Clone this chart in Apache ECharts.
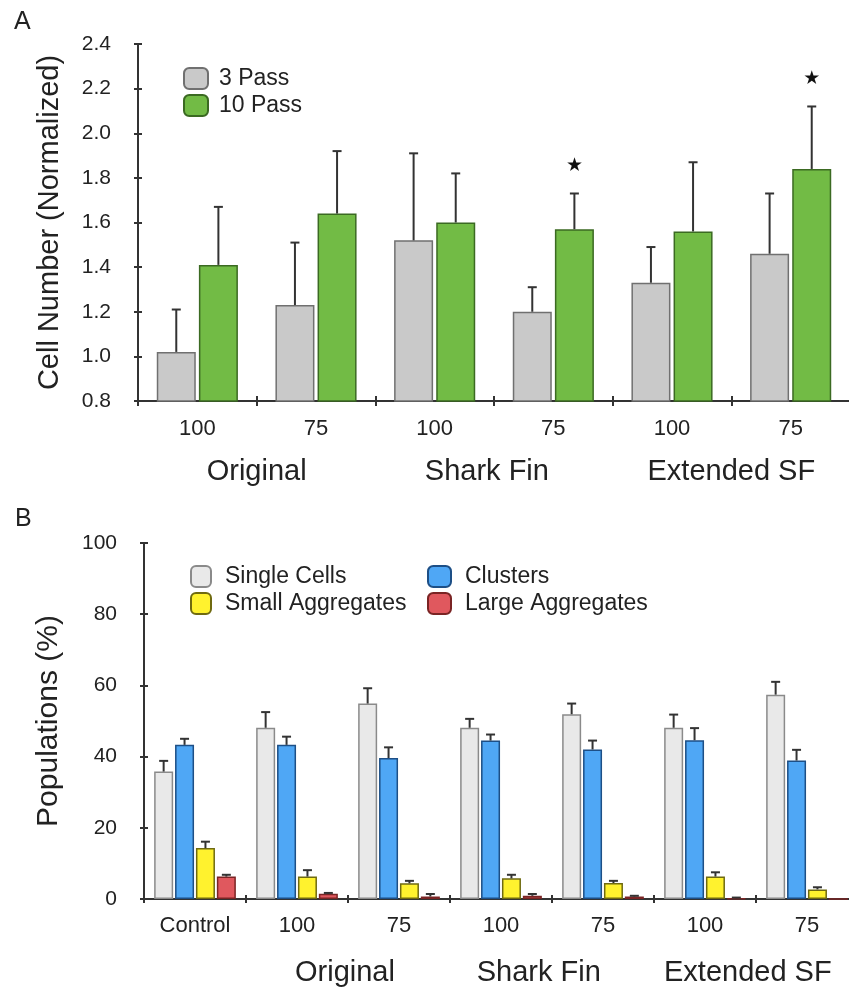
<!DOCTYPE html>
<html><head><meta charset="utf-8">
<script src="https://cdn.jsdelivr.net/npm/echarts@6/dist/echarts.min.js"></script>
<style>html,body{margin:0;padding:0;background:#fff}#c{width:849px;height:991px}</style>
</head><body><div id="c"></div>
<script>
// ---------- Panel A data ----------
const aCats = ['100', '75', '100', '75', '100', '75'];
const aGroups = ['Original', 'Shark Fin', 'Extended SF'];
const pass3 = [1.02, 1.23, 1.52, 1.20, 1.33, 1.46];
const pass3Err = [0.19, 0.28, 0.39, 0.11, 0.16, 0.27];
const pass10 = [1.41, 1.64, 1.60, 1.57, 1.56, 1.84];
const pass10Err = [0.26, 0.28, 0.22, 0.16, 0.31, 0.28];
const pass10Star = [false, false, false, true, false, true];
const aYTicks = { min: 0.8, max: 2.4, interval: 0.2 };

// ---------- Panel B data ----------
const bCats = ['Control', '100', '75', '100', '75', '100', '75'];
const bGroups = ['Original', 'Shark Fin', 'Extended SF'];
const single = [35.8, 48.1, 54.9, 48.1, 51.9, 48.1, 57.4];
const singleErr = [3.0, 4.4, 4.3, 2.5, 3.0, 3.7, 3.6];
const clusters = [43.3, 43.3, 39.6, 44.5, 42.0, 44.6, 38.9];
const clustersErr = [1.7, 2.3, 3.0, 1.7, 2.5, 3.4, 3.0];
const smallAgg = [14.3, 6.3, 4.4, 5.8, 4.5, 6.3, 2.7];
const smallAggErr = [1.8, 1.8, 0.7, 1.0, 0.6, 1.2, 0.6];
const largeAgg = [6.3, 1.5, 0.7, 0.9, 0.7, 0.2, 0];
const largeAggErr = [0.5, 0.2, 0.7, 0.5, 0.2, 0.2, 0];
const bYTicks = { min: 0, max: 100, interval: 20 };

// group-label anchor positions, in category-width units along each x axis (layout)
const aGroupPos = [1.0, 2.94, 5.0];
const bGroupPos = [1.97, 3.87, 5.92];

const FONT = '"Liberation Sans", Arial, Helvetica, sans-serif';
const TXT = '#222';
const AXC = '#333';

const chart = echarts.init(document.getElementById('c'), null, { renderer: 'canvas' });

function errSeries(name, vals, errs, xi, yi, idx, n, bw, gapRatio, stars) {
  const data = vals.map((v, i) => [i, v, errs[i], stars ? (stars[i] ? 1 : 0) : 0]);
  return {
    type: 'custom', name: name + ' err', xAxisIndex: xi, yAxisIndex: yi, z: 5,
    silent: true, legendHoverLink: false,
    data: data,
    encode: { x: 0, y: 1 },
    renderItem: function (params, api) {
      const ci = api.value(0), v = api.value(1), e = api.value(2), st = api.value(3);
      const off = (idx - (n - 1) / 2) * bw * (1 + gapRatio);
      const base = api.coord([ci, v]);
      const top = api.coord([ci, v + e]);
      const x = base[0] + off;
      const cap = 4.5;
      const children = [];
      if (e > 0) {
        children.push({ type: 'line', shape: { x1: x, y1: base[1], x2: x, y2: top[1] }, style: { stroke: '#333', lineWidth: 2 } });
        children.push({ type: 'line', shape: { x1: x - cap, y1: top[1], x2: x + cap, y2: top[1] }, style: { stroke: '#333', lineWidth: 2 } });
      }
      if (st) {
        children.push({ type: 'text', style: { text: '★', x: x, y: top[1] - 27, fill: '#111', font: '19px "DejaVu Sans"', align: 'center', verticalAlign: 'middle' } });
      }
      return { type: 'group', children: children };
    }
  };
}

function groupLabel(pos, names) {
  return v => {
    let k = -1, best = 1e9;
    pos.forEach((p, i) => { const d = Math.abs(p - v); if (d < best) { best = d; k = i; } });
    return best < 1e-6 ? names[k] : '';
  };
}

const aBW = 39, aGap = 0.08;
const bBW = 19, bGap = 0.1;

const tickStyle = { color: AXC, width: 2 };

const option = {
  animation: false,
  backgroundColor: '#fff',
  textStyle: { fontFamily: FONT },
  title: [
    { text: 'A', left: 9, top: 5, textStyle: { fontFamily: FONT, fontSize: 25, fontWeight: 'normal', color: TXT } },
    { text: 'B', left: 10, top: 502, textStyle: { fontFamily: FONT, fontSize: 25, fontWeight: 'normal', color: TXT } }
  ],
  legend: [
    { data: ['3 Pass', '10 Pass'], orient: 'vertical', left: 178, top: 62, itemWidth: 24, itemHeight: 21, itemGap: 4,
      icon: 'roundRect', textStyle: { fontFamily: FONT, fontSize: 23, color: TXT, padding: [0, 0, 0, 6] }, selectedMode: false },
    { data: ['Single Cells', 'Small Aggregates'], orient: 'vertical', left: 185, top: 560, itemWidth: 20, itemHeight: 21, itemGap: 4,
      icon: 'roundRect', textStyle: { fontFamily: FONT, fontSize: 23, color: TXT, padding: [0, 0, 0, 9] }, selectedMode: false },
    { data: ['Clusters', 'Large Aggregates'], orient: 'vertical', left: 422, top: 560, itemWidth: 23, itemHeight: 21, itemGap: 4,
      icon: 'roundRect', textStyle: { fontFamily: FONT, fontSize: 23, color: TXT, padding: [0, 0, 0, 9] }, selectedMode: false }
  ],
  grid: [
    { left: 138, top: 44, width: 712, height: 357, containLabel: false, outerBoundsMode: 'none' },
    { left: 144, top: 543, width: 714, height: 356, containLabel: false, outerBoundsMode: 'none' }
  ],
  xAxis: [
    { type: 'category', gridIndex: 0, data: aCats, boundaryGap: true, position: 'bottom',
      axisLine: { lineStyle: { color: AXC, width: 2 } },
      axisTick: { show: true, alignWithLabel: false, length: 5, lineStyle: tickStyle },
      axisLabel: { fontFamily: FONT, fontSize: 22, color: TXT, margin: 17, interval: 0 } },
    { type: 'value', gridIndex: 0, min: 0, max: aCats.length, position: 'bottom',
      axisLine: { show: false }, axisTick: { show: false }, splitLine: { show: false },
      axisLabel: { fontFamily: FONT, fontSize: 29, color: TXT, margin: 56, customValues: aGroupPos,
        formatter: groupLabel(aGroupPos, aGroups) } },
    { type: 'category', gridIndex: 1, data: bCats, boundaryGap: true, position: 'bottom',
      axisLine: { lineStyle: { color: AXC, width: 2 } },
      axisTick: { show: true, length: 4, lineStyle: tickStyle },
      axisLabel: { fontFamily: FONT, fontSize: 22, color: TXT, margin: 16, interval: 0 } },
    { type: 'value', gridIndex: 1, min: 0, max: bCats.length, position: 'bottom',
      axisLine: { show: false }, axisTick: { show: false }, splitLine: { show: false },
      axisLabel: { fontFamily: FONT, fontSize: 29, color: TXT, margin: 59, customValues: bGroupPos,
        formatter: groupLabel(bGroupPos, bGroups) } },
    // inside tick overlays so that ticks cross the axis lines
    { type: 'category', gridIndex: 0, data: aCats, boundaryGap: true, position: 'bottom',
      axisLine: { show: false }, axisLabel: { show: false }, splitLine: { show: false },
      axisTick: { show: true, inside: true, length: 5, lineStyle: tickStyle } },
    { type: 'category', gridIndex: 1, data: bCats, boundaryGap: true, position: 'bottom',
      axisLine: { show: false }, axisLabel: { show: false }, splitLine: { show: false },
      axisTick: { show: true, inside: true, length: 4, lineStyle: tickStyle } }
  ],
  yAxis: [
    { type: 'value', gridIndex: 0, min: aYTicks.min, max: aYTicks.max, interval: aYTicks.interval, position: 'left',
      name: 'Cell Number (Normalized)', nameLocation: 'middle', nameGap: 74, nameRotate: 90,
      nameTextStyle: { fontFamily: FONT, fontSize: 29, color: TXT },
      axisLine: { show: true, lineStyle: { color: AXC, width: 2 } },
      axisTick: { show: true, length: 4, lineStyle: tickStyle },
      splitLine: { show: false },
      axisLabel: { fontFamily: FONT, fontSize: 21, color: TXT, margin: 27, formatter: v => v.toFixed(1) } },
    { type: 'value', gridIndex: 1, min: bYTicks.min, max: bYTicks.max, interval: bYTicks.interval, position: 'left',
      name: 'Populations (%)', nameLocation: 'middle', nameGap: 80, nameRotate: 90,
      nameTextStyle: { fontFamily: FONT, fontSize: 30, color: TXT },
      axisLine: { show: true, lineStyle: { color: AXC, width: 2 } },
      axisTick: { show: true, length: 4, lineStyle: tickStyle },
      splitLine: { show: false },
      axisLabel: { fontFamily: FONT, fontSize: 21, color: TXT, margin: 27 } },
    { type: 'value', gridIndex: 0, min: aYTicks.min, max: aYTicks.max, interval: aYTicks.interval, position: 'left', offset: 0,
      axisLine: { show: false }, axisLabel: { show: false }, splitLine: { show: false },
      axisTick: { show: true, inside: true, length: 4, lineStyle: tickStyle } },
    { type: 'value', gridIndex: 1, min: bYTicks.min, max: bYTicks.max, interval: bYTicks.interval, position: 'left', offset: 0,
      axisLine: { show: false }, axisLabel: { show: false }, splitLine: { show: false },
      axisTick: { show: true, inside: true, length: 4, lineStyle: tickStyle } }
  ],
  series: [
    { name: '3 Pass', type: 'bar', xAxisIndex: 0, yAxisIndex: 0, data: pass3, barWidth: aBW, barGap: (aGap * 100) + '%',
      itemStyle: { color: '#c9c9c9', borderColor: '#707070', borderWidth: 1.5 } },
    { name: '10 Pass', type: 'bar', xAxisIndex: 0, yAxisIndex: 0, data: pass10, barWidth: aBW, barGap: (aGap * 100) + '%',
      itemStyle: { color: '#72bb45', borderColor: '#3b6a22', borderWidth: 1.5 } },
    errSeries('3 Pass', pass3, pass3Err, 0, 0, 0, 2, aBW, aGap, null),
    errSeries('10 Pass', pass10, pass10Err, 0, 0, 1, 2, aBW, aGap, pass10Star),

    { name: 'Single Cells', type: 'bar', xAxisIndex: 2, yAxisIndex: 1, data: single, barWidth: bBW, barGap: (bGap * 100) + '%',
      itemStyle: { color: '#e9e9e9', borderColor: '#8a8a8a', borderWidth: 1.5 } },
    { name: 'Clusters', type: 'bar', xAxisIndex: 2, yAxisIndex: 1, data: clusters, barWidth: bBW, barGap: (bGap * 100) + '%',
      itemStyle: { color: '#4fa7f5', borderColor: '#1d4f86', borderWidth: 1.5 } },
    { name: 'Small Aggregates', type: 'bar', xAxisIndex: 2, yAxisIndex: 1, data: smallAgg, barWidth: bBW, barGap: (bGap * 100) + '%',
      itemStyle: { color: '#fff22e', borderColor: '#6f6a10', borderWidth: 1.5 } },
    { name: 'Large Aggregates', type: 'bar', xAxisIndex: 2, yAxisIndex: 1, data: largeAgg, barWidth: bBW, barGap: (bGap * 100) + '%',
      itemStyle: { color: '#e0585e', borderColor: '#7a2424', borderWidth: 1.5 } },
    errSeries('Single Cells', single, singleErr, 2, 1, 0, 4, bBW, bGap, null),
    errSeries('Clusters', clusters, clustersErr, 2, 1, 1, 4, bBW, bGap, null),
    errSeries('Small Aggregates', smallAgg, smallAggErr, 2, 1, 2, 4, bBW, bGap, null),
    errSeries('Large Aggregates', largeAgg, largeAggErr, 2, 1, 3, 4, bBW, bGap, null)
  ]
};
chart.setOption(option);
</script>
</body></html>
